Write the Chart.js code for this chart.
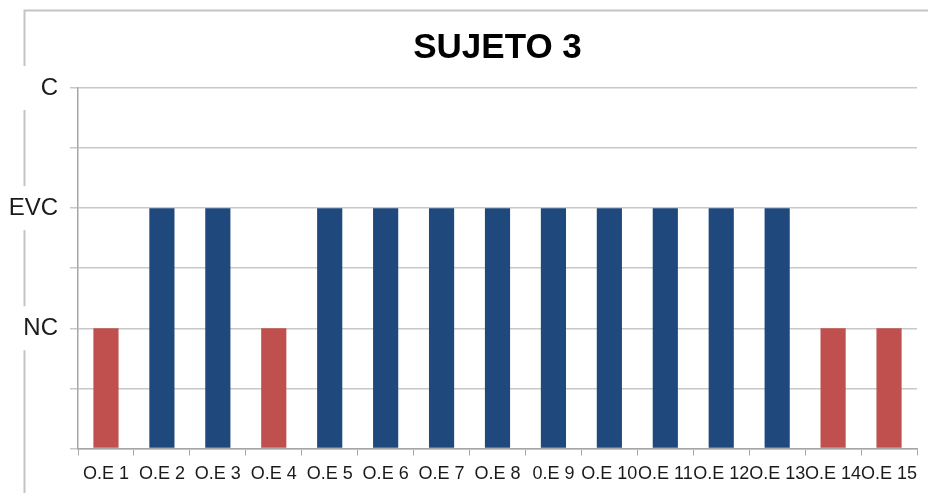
<!DOCTYPE html>
<html>
<head>
<meta charset="utf-8">
<script src="https://cdn.jsdelivr.net/npm/chart.js@4"></script>
<style>
  html, body { margin: 0; padding: 0; background: #fff; }
  #wrap { width: 928px; height: 493px; }
</style>
</head>
<body>
<div id="wrap"><canvas id="grafico" width="928" height="493"></canvas></div>
<script>
// Datos del grafico
const titulo = 'SUJETO 3';
const categorias = ['O.E 1', 'O.E 2', 'O.E 3', 'O.E 4', 'O.E 5', 'O.E 6', 'O.E 7', 'O.E 8',
    '0.E 9', 'O.E 10', 'O.E 11', 'O.E 12', 'O.E 13', 'O.E 14', 'O.E 15'];
const valores = [2, 4, 4, 2, 4, 4, 4, 4, 4, 4, 4, 4, 4, 2, 2];
// etiquetas del eje y segun el valor (0..6)
const niveles = ['', '', 'NC', '', 'EVC', '', 'C'];

const ROJO = '#C0504D';
const AZUL = '#1F497D';
const colores = valores.map(v => v === 2 ? ROJO : AZUL);

const FUENTE = "'Liberation Sans', Arial, sans-serif";

// marco gris del grafico (borde izquierdo y superior), cortado detras de las etiquetas
const marco = {
    id: 'marco',
    beforeDraw(chart) {
        const c = chart.ctx;
        const y = chart.scales.y;
        c.save();
        c.strokeStyle = '#c4c4c4';
        c.lineWidth = 2;
        c.beginPath();
        c.moveTo(24.5, 493);
        c.lineTo(24.5, 10.5);
        c.lineTo(928, 10.5);
        c.stroke();
        c.fillStyle = '#fff';
        niveles.forEach((txt, v) => {
            if (!txt) return;
            const py = y.getPixelForValue(v);
            c.fillRect(18, py - 22, 14, 44);
        });
        c.restore();
    }
};

const ctx = document.getElementById('grafico').getContext('2d');
const grafico = new Chart(ctx, {
    type: 'bar',
    data: {
        labels: categorias,
        datasets: [{
            data: valores,
            backgroundColor: colores,
            borderWidth: 0,
            barPercentage: 0.45,
            categoryPercentage: 1
        }]
    },
    options: {
        responsive: false,
        animation: false,
        layout: { padding: { top: 10, left: 0, right: 11, bottom: 0 } },
        plugins: {
            legend: { display: false },
            tooltip: { enabled: false },
            title: {
                display: true,
                fullSize: false,
                text: titulo,
                color: '#000',
                font: { family: FUENTE, size: 35, weight: 'bold' },
                padding: { top: 17, bottom: 19 }
            }
        },
        scales: {
            x: {
                grid: {
                    display: true,
                    drawOnChartArea: false,
                    offset: true,
                    tickLength: 7,
                    color: '#a6a6a6'
                },
                border: { color: '#a6a6a6', width: 1.5 },
                ticks: {
                    autoSkip: false,
                    maxRotation: 0,
                    minRotation: 0,
                    padding: 8,
                    color: '#1a1a1a',
                    font: { family: FUENTE, size: 18 }
                }
            },
            y: {
                min: 0,
                max: 6,
                afterFit(scale) { scale.width = 78; },
                grid: {
                    color: '#c8c8c8',
                    lineWidth: 1.5,
                    tickLength: 8
                },
                border: { color: '#a6a6a6', width: 1.5 },
                ticks: {
                    stepSize: 1,
                    padding: 12,
                    color: '#1a1a1a',
                    font: { family: FUENTE, size: 24 },
                    callback: v => niveles[v] || ''
                }
            }
        }
    },
    plugins: [marco]
});
</script>
</body>
</html>
